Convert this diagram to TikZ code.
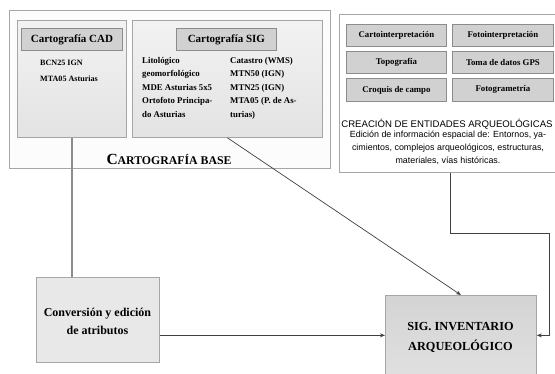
\documentclass[tikz,border=0pt]{standalone}
\usepackage{fontspec}
\setmainfont{Liberation Serif}
\newfontfamily\sansf{Liberation Sans}
\usetikzlibrary{arrows.meta,calc}
\begin{document}
\begin{tikzpicture}[x=1pt,y=-1pt,
  panel/.style={draw=black!35,line width=0.8pt,anchor=north west,inner sep=0pt},
  graybox/.style={panel,top color=black!5,bottom color=black!11},
  titlebox/.style={draw=black!45,line width=0.8pt,fill=black!18,anchor=north west,inner sep=0pt,font=\bfseries\fontsize{11}{12}\selectfont},
  smallbox/.style={draw=black!45,line width=0.8pt,fill=black!18,anchor=north west,inner sep=0pt,font=\bfseries\fontsize{8.8}{10}\selectfont},
  listtxt/.style={anchor=north west,inner sep=0pt,align=left,font=\bfseries\fontsize{8.8}{13.5}\selectfont},
  conn/.style={draw=black!75,line width=0.7pt},
  tip/.style={-{Stealth[length=5pt,width=4pt]}}
]
\useasboundingbox (0,0) rectangle (555,374);
% base panel
\node[panel,fill=black!1,minimum width=321,minimum height=158] (base) at (9,10) {};
\node[graybox,minimum width=109,minimum height=117] (cad) at (17,20) {};
\node[titlebox,minimum width=101,minimum height=22] (cadt) at (21,28) {Cartografía CAD};
\node[listtxt,font=\bfseries\fontsize{8.1}{16}\selectfont] (cadl) at (40,60) {BCN25 IGN\\MTA05 Asturias};
\node[graybox,minimum width=190,minimum height=117] (sig) at (132,20) {};
\node[titlebox,minimum width=100,minimum height=22] (sigt) at (176,28) {Cartografía SIG};
\node[listtxt] (sigl) at (142,57) {Litológico\\geomorfológico\\MDE Asturias 5x5\\Ortofoto Principa-\\do Asturias};
\node[listtxt] (sigr) at (230,57) {Catastro (WMS)\\MTN50 (IGN)\\MTN25 (IGN)\\MTA05 (P. de As-\\turias)};
\node[inner sep=0pt,font=\bfseries] (baset) at (169,159) {{\fontsize{15.5}{16}\selectfont C}{\fontsize{11.8}{12}\selectfont ARTOGRAFÍA BASE}};
% right panel
\node[panel,fill=white,minimum width=218,minimum height=158] (crea) at (339,14) {};
\node[smallbox,minimum width=100,minimum height=22] (b1) at (346,24) {Cartointerpretación};
\node[smallbox,minimum width=101,minimum height=22] (b2) at (452,24) {Fotointerpretación};
\node[smallbox,minimum width=100,minimum height=22] (b3) at (346,51) {Topografía};
\node[smallbox,minimum width=101,minimum height=22] (b4) at (452,51) {Toma de datos GPS};
\node[smallbox,minimum width=100,minimum height=23] (b5) at (346,78) {Croquis de campo};
\node[smallbox,minimum width=101,minimum height=23] (b6) at (452,78) {Fotogrametría};
\node[inner sep=0pt,font=\sansf\fontsize{9.6}{11}\selectfont] (creat) at (447,124) {CREACIÓN DE ENTIDADES ARQUEOLÓGICAS};
\node[inner sep=0pt,anchor=north,align=center,font=\sansf\fontsize{8.9}{13}\selectfont] (creap) at (448,131) {Edición de información espacial de: Entornos, ya-\\cimientos, complejos arqueológicos, estructuras,\\materiales, vías históricas.};
% lower boxes
\node[panel,fill=black!9,minimum width=123,minimum height=85] (conv) at (36,277) {};
\node[inner sep=0pt,align=center,font=\bfseries\fontsize{12}{18}\selectfont] (convt) at (97.5,321) {Conversión y edición\\de atributos};
\node[panel,top color=black!17,bottom color=black!12,minimum width=151,minimum height=85] (inv) at (385,295) {};
\node[inner sep=0pt,align=center,font=\bfseries\fontsize{12.3}{20}\selectfont] (invt) at (460.5,337) {SIG. INVENTARIO\\ARQUEOLÓGICO};
% connectors
\draw[draw=black!45,line width=1.4pt] (cad.south) -- (cad.south |- conv.north);
\coordinate (cvp) at ($(conv.north east)!0.68!(conv.south east)$);
\draw[conn,tip] (cvp) -- (cvp -| inv.west);
\draw[conn,tip] (sig.south) -- (inv.north);
\coordinate (cr0) at ($(crea.south)+(2,0)$);
\coordinate (cr1) at ($(cr0)+(0,61)$);
\coordinate (cr2) at (549,0 |- cr1);
\draw[conn,tip] (cr0) -- (cr1) -- (cr2) -- (cr2 |- cvp) -- (cvp -| inv.east);
\end{tikzpicture}
\end{document}
